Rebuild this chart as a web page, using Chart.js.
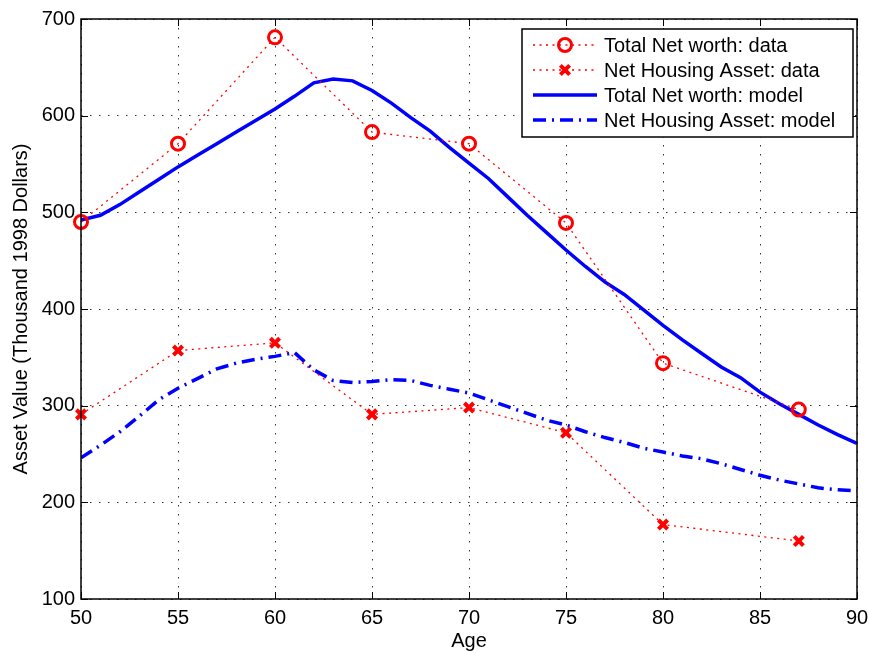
<!DOCTYPE html>
<html>
<head>
<meta charset="utf-8">
<script src="https://cdn.jsdelivr.net/npm/chart.js@4.4.0/dist/chart.umd.min.js"></script>
<style>
  html, body { margin: 0; padding: 0; background: #fff; }
</style>
</head>
<body>
<canvas id="assetChart" width="870" height="653"></canvas>
<script>
// survey points (every 5 years, last one at 87)
const dataAges = [50, 55, 60, 65, 70, 75, 80, 87];
const netWorthData = [490, 571, 681, 583, 571, 489, 344, 296];
const housingData = [291, 357, 365, 291, 298, 272, 177, 160];

// model output, one value per year of age
const modelAges = [50, 51, 52, 53, 54, 55, 56, 57, 58, 59, 60, 61, 62, 63, 64, 65, 66, 67, 68, 69, 70,
                   71, 72, 73, 74, 75, 76, 77, 78, 79, 80, 81, 82, 83, 84, 85, 86, 87, 88, 89, 90];
const netWorthModel = [492, 497, 508, 521, 534, 547, 559, 571, 583, 595, 607, 620, 634, 638, 636, 626, 613, 598, 584, 567, 551,
                       535, 516, 497, 479, 461, 444, 428, 415, 399, 383, 368, 354, 340, 329, 314, 302, 291, 280, 270, 261];
const housingModel = [246, 259, 273, 289, 306, 318, 328, 338, 344, 348, 351, 355, 337, 326, 324, 325, 327, 326, 321, 317, 313,
                      306, 299, 292, 285, 280, 273, 267, 262, 256, 252, 248, 245, 240, 234, 228, 223, 219, 215, 213, 212];

const xTicks = [50, 55, 60, 65, 70, 75, 80, 85, 90];
const yTicks = [100, 200, 300, 400, 500, 600, 700];

const FONT = "'Liberation Sans', Arial, Helvetica, sans-serif";

const toPoints = (xs, ys) => xs.map((x, i) => ({x: x, y: ys[i]}));

// black box + inward tick marks, matlab style
const frame = {
  id: 'frame',
  afterDatasetsDraw(chart) {
    const {ctx, chartArea: a, scales: {x, y}} = chart;
    const len = 7;
    ctx.save();
    ctx.strokeStyle = '#000';
    ctx.lineWidth = 1;
    ctx.beginPath();
    xTicks.forEach(v => {
      const px = Math.round(x.getPixelForValue(v)) + 0.5;
      ctx.moveTo(px, a.bottom); ctx.lineTo(px, a.bottom - len);
      ctx.moveTo(px, a.top); ctx.lineTo(px, a.top + len);
    });
    yTicks.forEach(v => {
      const py = Math.round(y.getPixelForValue(v)) + 0.5;
      ctx.moveTo(a.left, py); ctx.lineTo(a.left + len, py);
      ctx.moveTo(a.right, py); ctx.lineTo(a.right - len, py);
    });
    ctx.stroke();
    ctx.lineWidth = 1.5;
    ctx.strokeRect(a.left, a.top, a.right - a.left, a.bottom - a.top);
    ctx.restore();
  }
};

// legend box in the top right corner, samples drawn from the dataset styles
const boxLegend = {
  id: 'boxLegend',
  afterDraw(chart) {
    const {ctx, chartArea: a} = chart;
    const w = 331, h = 108;
    const left = a.right - 4 - w, top = a.top + 10;
    ctx.save();
    ctx.fillStyle = '#fff';
    ctx.fillRect(left, top, w, h);
    ctx.strokeStyle = '#000';
    ctx.lineWidth = 1.5;
    ctx.strokeRect(left, top, w, h);
    chart.data.datasets.forEach((ds, i) => {
      const cy = top + 16 + i * 25;
      const x0 = left + 11, x1 = left + 75;
      ctx.save();
      ctx.strokeStyle = ds.borderColor;
      ctx.lineWidth = ds.borderWidth;
      ctx.setLineDash(ds.borderDash || []);
      ctx.beginPath();
      ctx.moveTo(x0, cy);
      ctx.lineTo(x1, cy);
      ctx.stroke();
      ctx.restore();
      if (ds.pointRadius > 0) {
        ctx.save();
        ctx.strokeStyle = ds.pointBorderColor;
        ctx.fillStyle = 'rgba(0,0,0,0)';
        ctx.lineWidth = ds.pointBorderWidth;
        Chart.helpers.drawPoint(ctx, {pointStyle: ds.pointStyle, radius: ds.pointRadius,
          borderWidth: ds.pointBorderWidth, rotation: 0}, (x0 + x1) / 2, cy);
        ctx.restore();
      }
      ctx.fillStyle = '#000';
      ctx.font = '20px ' + FONT;
      ctx.textBaseline = 'middle';
      ctx.textAlign = 'left';
      ctx.fillText(ds.label, left + 82, cy + 1);
    });
    ctx.restore();
  }
};

new Chart(document.getElementById('assetChart'), {
  type: 'line',
  data: {
    datasets: [{
      label: 'Total Net worth: data',
      data: toPoints(dataAges, netWorthData),
      borderColor: '#ff0000',
      borderWidth: 1.3,
      borderDash: [2, 4.5],
      pointStyle: 'circle',
      pointRadius: 6.5,
      pointBorderWidth: 3,
      pointBorderColor: '#ff0000',
      pointBackgroundColor: 'rgba(0,0,0,0)',
      clip: false
    }, {
      label: 'Net Housing Asset: data',
      data: toPoints(dataAges, housingData),
      borderColor: '#ff0000',
      borderWidth: 1.3,
      borderDash: [2, 4.5],
      pointStyle: 'crossRot',
      pointRadius: 6.5,
      pointBorderWidth: 4,
      pointBorderColor: '#ff0000',
      pointBackgroundColor: '#ff0000',
      clip: false
    }, {
      label: 'Total Net worth: model',
      data: toPoints(modelAges, netWorthModel),
      borderColor: '#0000ff',
      borderWidth: 3.5,
      pointRadius: 0
    }, {
      label: 'Net Housing Asset: model',
      data: toPoints(modelAges, housingModel),
      borderColor: '#0000ff',
      borderWidth: 3.5,
      borderDash: [13, 6, 2, 6],
      pointRadius: 0
    }]
  },
  options: {
    responsive: false,
    animation: false,
    devicePixelRatio: 1,
    layout: { padding: { top: 19, right: 13, left: 0, bottom: 0 } },
    elements: { line: { tension: 0, fill: false, borderCapStyle: 'butt' } },
    plugins: {
      legend: { display: false },
      tooltip: { enabled: false }
    },
    scales: {
      x: {
        type: 'linear',
        min: 50,
        max: 90,
        afterFit: s => { s.height = 54; s.paddingLeft = 0; s.paddingRight = 0; },
        afterBuildTicks: s => { s.ticks = xTicks.map(v => ({value: v})); },
        ticks: { color: '#000', padding: 7, font: { family: FONT, size: 20 }, maxRotation: 0 },
        grid: { color: 'rgba(0,0,0,0.8)', lineWidth: 1, drawTicks: false },
        border: { display: false, dash: [1.5, 7.5] },
        title: { display: true, text: 'Age', color: '#000', font: { family: FONT, size: 20 }, padding: { top: 0, bottom: 0 } }
      },
      y: {
        min: 100,
        max: 700,
        afterFit: s => { s.width = 81; s.paddingTop = 0; s.paddingBottom = 0; },
        afterBuildTicks: s => { s.ticks = yTicks.map(v => ({value: v})); },
        ticks: { color: '#000', padding: 6, font: { family: FONT, size: 20 } },
        grid: { color: 'rgba(0,0,0,0.8)', lineWidth: 1, drawTicks: false },
        border: { display: false, dash: [1.5, 7.5] },
        title: { display: true, text: 'Asset Value (Thousand 1998 Dollars)', color: '#000', font: { family: FONT, size: 20 }, padding: { top: 9, bottom: 0 } }
      }
    }
  },
  plugins: [frame, boxLegend]
});
</script>
</body>
</html>
